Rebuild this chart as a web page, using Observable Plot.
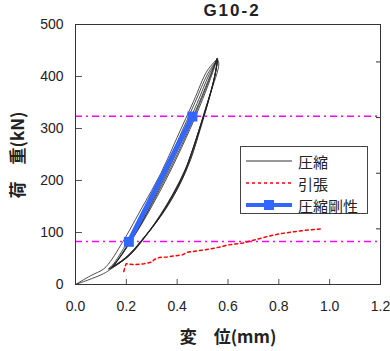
<!DOCTYPE html>
<html><head><meta charset="utf-8">
<script src="https://cdn.jsdelivr.net/npm/d3@7"></script>
<script src="https://cdn.jsdelivr.net/npm/@observablehq/plot@0.6"></script>
<style>
body{margin:0;background:#fff;}
#wrap{position:relative;width:390px;height:351px;font-family:"Noto Sans CJK JP",sans-serif;}
#title{position:absolute;left:0;width:464px;top:1px;text-align:center;font:bold 17px "Liberation Sans",sans-serif;letter-spacing:2px;color:#222;}
#ylab{position:absolute;left:17px;top:155px;transform:translate(-50%,-50%) rotate(-90deg);white-space:nowrap;font-weight:bold;font-size:17px;line-height:20px;color:#222;}
#xlab{position:absolute;left:228px;top:336px;transform:translate(-50%,-50%);white-space:nowrap;font-weight:bold;font-size:17px;line-height:20px;color:#222;}
#legend{position:absolute;left:240px;top:146px;width:128px;height:68px;border:1px solid #444;background:#fff;box-sizing:border-box;}
.row{position:absolute;left:5px;height:20px;line-height:20px;display:flex;align-items:center;font-size:15px;color:#222;}
.row span{line-height:17px;}
.row svg{margin-right:6px;}
</style></head>
<body><div id="wrap"></div>
<script>
const title = "G10-2";
const yLabel = "荷\u3000重(kN)";
const xLabel = "変\u3000位(mm)";
const xTicks = [0, 0.2, 0.4, 0.6, 0.8, 1.0, 1.2];
const yTicks = [0, 100, 200, 300, 400, 500];
const rightTicks = [107, 214, 321, 428];
const refLoads = [82.5, 323.5];
const legendNames = ["圧縮", "引張", "圧縮剛性"];

// compression cycles [disp mm, load kN]
const firstLoad = [[0,0],[0.046,8],[0.111,21],[0.14,30],[0.2,52],[0.26,85],[0.3,108],[0.355,145],[0.4,183],[0.453,240],[0.492,303],[0.531,367],[0.564,424],[0.558,434]];
const cycle1Unload = [[0.556,432],[0.52,405],[0.47,350],[0.41,285],[0.345,215],[0.28,150],[0.22,95],[0.18,62],[0.15,40],[0.13,30]];
const cycle1Reload = [[0.13,30],[0.16,38],[0.21,55],[0.265,88],[0.31,115],[0.36,150],[0.41,192],[0.455,245],[0.495,305],[0.53,365],[0.556,420],[0.558,432]];
const cycle2Unload = [[0.558,433],[0.525,403],[0.478,348],[0.42,285],[0.355,216],[0.29,152],[0.235,100],[0.19,65],[0.16,43],[0.135,30]];
const cycle2Reload = [[0.135,30],[0.17,40],[0.22,60],[0.27,90],[0.32,122],[0.37,160],[0.42,205],[0.46,258],[0.5,318],[0.535,375],[0.557,425],[0.558,433]];
const cycle3Unload = [[0.557,434],[0.53,402],[0.485,348],[0.43,288],[0.365,220],[0.3,157],[0.245,105],[0.2,70],[0.165,46],[0.14,32]];
const cycle3Reload = [[0.14,32],[0.175,42],[0.225,62],[0.275,92],[0.325,125],[0.375,165],[0.425,212],[0.465,265],[0.505,328],[0.54,385],[0.557,428],[0.557,434]];
const cycle4Unload = [[0.557,434],[0.535,405],[0.49,350],[0.44,292],[0.375,225],[0.31,163],[0.25,110],[0.205,74],[0.17,50],[0.145,34]];
const cycle4Reload = [[0.145,34],[0.18,45],[0.23,66],[0.28,96],[0.33,130],[0.38,170],[0.43,218],[0.47,272],[0.51,335],[0.543,390],[0.558,430],[0.557,434]];
const cycle5Unload = [[0.557,434],[0.54,408],[0.5,356],[0.45,298],[0.385,230],[0.32,168],[0.26,116],[0.21,78],[0.175,52],[0.15,36]];
const cycle5Reload = [[0.15,36],[0.185,47],[0.235,70],[0.285,100],[0.335,135],[0.385,176],[0.435,225],[0.475,280],[0.515,340],[0.546,395],[0.558,432]];
const lastUnload = [[0.558,434],[0.518,411],[0.466,354],[0.4,283],[0.335,213],[0.263,149],[0.197,91],[0.177,75],[0.144,49],[0.111,30],[0.06,17],[0,0]];

// tension
const tension = [[0.19,25],[0.195,35],[0.2,40],[0.23,38],[0.27,40],[0.3,43],[0.31,48],[0.33,52],[0.36,53],[0.42,57],[0.44,62],[0.5,66],[0.57,72],[0.6,76],[0.66,80],[0.7,85],[0.73,89],[0.76,93],[0.8,97],[0.85,101],[0.9,104],[0.965,107]];

// compression stiffness
const stiffness = [[0.21,82],[0.46,323]];

const blue = "#3366ff", magenta = "#ff00ff", red = "#ff0000";
const compCurves = [firstLoad, cycle1Unload, cycle1Reload, cycle2Unload, cycle2Reload, cycle3Unload, cycle3Reload, cycle4Unload, cycle4Reload, cycle5Unload, cycle5Reload, lastUnload];

const chart = Plot.plot({
  width: 390, height: 351,
  marginTop: 24, marginBottom: 67, marginLeft: 75, marginRight: 10,
  x: {domain: [0, 1.2]},
  y: {domain: [0, 500]},
  style: {fontFamily: "Liberation Sans, sans-serif", fontSize: "14px", color: "#222"},
  marks: [
    Plot.ruleY(refLoads, {stroke: magenta, strokeWidth: 1.5, strokeDasharray: "7,4,2,4"}),
    ...compCurves.map(c => Plot.line(c, {x: d => d[0], y: d => d[1], stroke: "#222", strokeWidth: 0.8, curve: "catmull-rom"})),
    Plot.line(tension, {x: d => d[0], y: d => d[1], stroke: red, strokeWidth: 1.5, strokeDasharray: "3,3"}),
    Plot.line(stiffness, {x: d => d[0], y: d => d[1], stroke: blue, strokeWidth: 5}),
    Plot.dot(stiffness, {x: d => d[0], y: d => d[1], symbol: "square", r: 5.6, fill: blue}),
    Plot.axisX({ticks: xTicks, tickFormat: d => d.toFixed(1), tickSize: 0, tickPadding: 17, label: null}),
    Plot.axisX({ticks: xTicks, text: null, tickSize: -5, label: null, stroke: "#555"}),
    Plot.axisY({ticks: yTicks, tickSize: 0, tickPadding: 12, label: null}),
    Plot.axisY({ticks: yTicks, text: null, tickSize: -7, label: null, stroke: "#555"}),
    Plot.axisY(rightTicks, {anchor: "right", text: null, tickSize: -5, label: null, stroke: "#333"}),
    Plot.frame({stroke: "#333"})
  ]
});

const wrap = document.getElementById("wrap");
wrap.appendChild(chart);
const t = document.createElement("div"); t.id = "title"; t.textContent = title; wrap.appendChild(t);
const yl = document.createElement("div"); yl.id = "ylab"; yl.textContent = yLabel; wrap.appendChild(yl);
const xl = document.createElement("div"); xl.id = "xlab"; xl.textContent = xLabel; wrap.appendChild(xl);

const lg = document.createElement("div"); lg.id = "legend";
const samples = [
  `<svg width="46" height="12"><line x1="0" y1="6" x2="46" y2="6" stroke="#333" stroke-width="1"/></svg>`,
  `<svg width="46" height="12"><line x1="0" y1="6" x2="46" y2="6" stroke="${red}" stroke-width="1.5" stroke-dasharray="3,3"/></svg>`,
  `<svg width="46" height="12"><line x1="0" y1="6" x2="46" y2="6" stroke="${blue}" stroke-width="4"/><rect x="18" y="1" width="10" height="10" fill="${blue}"/></svg>`
];
legendNames.forEach((n, i) => {
  const r = document.createElement("div"); r.className = "row";
  r.style.top = (4 + i * 22) + "px";
  r.innerHTML = samples[i] + `<span>${n}</span>`;
  lg.appendChild(r);
});
wrap.appendChild(lg);
</script>
</body></html>
